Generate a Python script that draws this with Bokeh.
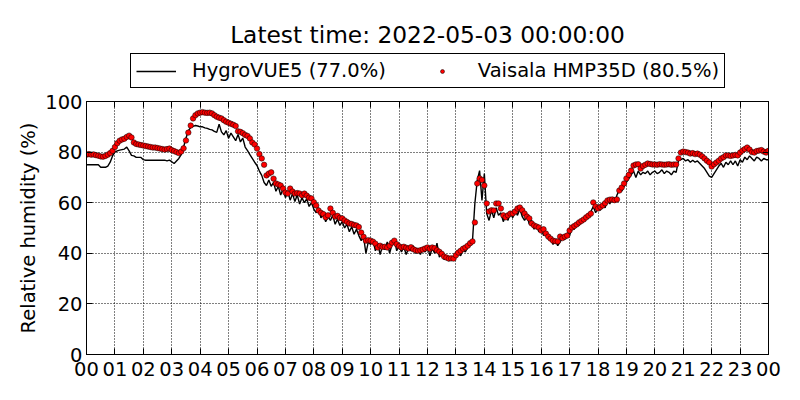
import pandas as pd
from bokeh.plotting import figure
from bokeh.layouts import column
from bokeh.models import (Range1d, FixedTicker, DatetimeTickFormatter, LinearAxis, DatetimeAxis,
                          Legend, LegendItem, Label, ColumnDataSource)
from bokeh.embed import file_html
from bokeh.resources import INLINE

title_text = "Latest time: 2022-05-03 00:00:00"
y_label = "Relative humidity (%)"
hygro_label = "HygroVUE5 (77.0%)"
vaisala_label = "Vaisala HMP35D (80.5%)"

times = pd.date_range("2022-05-02 00:00", periods=289, freq="5min")
hour_ticks = pd.date_range("2022-05-02 00:00", periods=25, freq="h")

# Vaisala HMP35D (dots), 5-minute values, one row per hour
vaisala = [
    79.0, 79.2, 79.0, 79.1, 78.8, 78.6, 78.3, 78.2, 78.5, 79.0, 79.6, 80.5,
    82.0, 83.5, 84.5, 85.0, 85.3, 86.0, 86.5, 85.8, 83.8, 83.2, 83.0, 82.8,
    82.6, 82.4, 82.2, 82.0, 81.8, 81.8, 81.6, 81.4, 81.2, 81.0, 81.2, 81.4,
    80.8, 80.4, 80.0, 79.6, 80.2, 81.5, 84.6, 87.7, 90.5, 93.3, 94.6, 95.3,
    95.6, 95.8, 95.6, 95.5, 95.6, 95.3, 94.6, 94.0, 93.6, 93.3, 92.6, 92.0,
    91.6, 91.2, 90.8, 90.3, 88.2, 88.0, 87.5, 86.8, 86.4, 85.4, 83.8, 83.0,
    81.4, 79.2, 77.5, 75.0, 70.8, 71.5, 72.0, 69.5, 67.6, 67.2, 66.8, 65.6,
    64.0, 63.6, 65.6, 64.4, 63.6, 63.8, 63.6, 62.9, 63.6, 62.8, 62.0, 61.7,
    60.2, 58.9, 56.9, 56.0, 55.5, 54.2, 55.0, 57.7, 56.0, 54.5, 54.8, 54.0,
    53.8, 53.0, 52.4, 51.8, 51.6, 51.2, 51.0, 50.4, 48.2, 46.5, 45.0, 45.2,
    45.0, 44.6, 43.8, 42.3, 43.0, 42.5, 42.6, 42.3, 43.0, 44.2, 45.0, 43.6,
    42.8, 42.3, 42.6, 42.2, 41.9, 42.4, 41.6, 41.2, 41.0, 41.2, 41.5, 41.9,
    42.3, 41.8, 42.3, 42.0, 41.2, 40.6, 39.8, 38.7, 38.3, 37.9, 38.0, 37.9,
    39.2, 40.3, 41.0, 41.8, 42.3, 43.0, 44.0, 44.7, 52.2, 67.6, 69.6, 69.0,
    66.8, 59.7, 56.5, 57.0, 56.9, 59.7, 59.7, 57.7, 55.0, 54.2, 55.0, 55.7,
    55.7, 56.5, 57.7, 58.1, 57.0, 55.7, 54.5, 53.8, 51.8, 51.0, 50.6, 50.2,
    49.0, 49.5, 47.8, 46.6, 45.8, 45.0, 44.8, 44.7, 46.6, 46.0, 46.6, 47.0,
    49.0, 50.2, 50.8, 51.4, 52.2, 52.8, 53.4, 54.2, 54.9, 55.7, 60.1, 58.5,
    57.7, 58.3, 58.9, 59.8, 60.9, 61.2, 61.3, 61.0, 61.3, 64.8, 66.0, 67.6,
    69.6, 71.0, 72.7, 74.7, 75.1, 75.2, 73.5, 74.5, 75.0, 75.5, 75.3, 75.1,
    75.1, 75.0, 75.2, 75.1, 75.0, 75.1, 75.2, 75.0, 75.1, 75.1, 77.5, 79.8,
    80.2, 80.0, 79.8, 79.4, 79.6, 79.2, 79.4, 79.0, 78.3, 77.5, 76.6, 75.9,
    74.3, 75.2, 75.9, 76.6, 77.5, 78.0, 78.7, 78.7, 78.5, 78.7, 78.9, 78.7,
    79.8, 80.6, 81.2, 81.8, 81.0, 80.0, 79.8, 80.4, 80.6, 80.8, 80.2, 79.8,
    80.5,
]

# HygroVUE5 (line), 5-minute values, one row per hour
hygro = [
    75.0, 75.0, 75.0, 75.0, 75.0, 75.0, 74.0, 74.0, 74.0, 74.5, 76.0, 78.5,
    80.0, 80.5, 80.8, 81.0, 81.2, 82.0, 80.5, 78.7, 78.5, 77.9, 77.9, 77.9,
    77.0, 76.8, 76.8, 76.8, 76.8, 76.8, 76.8, 76.8, 76.8, 76.8, 76.5, 76.8,
    76.2, 75.5, 76.5, 77.5, 79.0, 82.0, 85.5, 88.5, 89.7, 90.2, 90.5, 90.3,
    90.0, 90.0, 89.6, 89.4, 89.0, 88.8, 88.2, 87.8, 91.0, 88.0, 86.8, 88.5,
    85.5, 87.5, 86.0, 84.5, 87.0, 84.0, 85.5, 82.0, 80.6, 79.0, 77.5, 76.0,
    74.7, 72.5, 70.8, 68.0, 66.8, 69.0, 66.5, 68.0, 64.5, 66.5, 63.0, 65.5,
    62.0, 64.5, 61.0, 63.5, 60.5, 63.0, 59.5, 62.0, 60.0, 61.5, 58.5, 60.0,
    57.5, 56.0, 58.0, 54.0, 55.5, 52.5, 54.5, 53.0, 55.0, 51.5, 53.5, 51.0,
    52.5, 50.0, 51.5, 48.5, 50.5, 47.5, 49.5, 47.0, 45.0, 46.5, 40.0, 44.5,
    43.5, 45.0, 41.0, 44.0, 39.5, 43.0, 41.5, 44.5, 40.0, 43.5, 45.5, 41.0,
    43.0, 40.5, 42.5, 39.5, 42.0, 41.0, 43.0, 40.0, 41.5, 39.5, 42.0, 40.5,
    43.0, 39.0, 42.0, 40.0, 44.0, 38.5, 40.5, 37.5, 39.0, 37.0, 38.5, 37.5,
    38.5, 40.0, 39.0, 41.5, 40.5, 42.5, 43.0, 45.0, 59.7, 68.8, 72.7, 60.9,
    71.5, 55.7, 53.0, 57.0, 54.0, 58.0, 55.0, 56.0, 52.5, 55.0, 53.0, 56.5,
    54.0, 57.0, 55.0, 57.5, 54.5, 53.0, 55.0, 51.5, 53.0, 49.5, 51.5, 48.5,
    50.0, 47.0, 48.5, 45.5, 46.5, 43.5, 45.0, 43.0, 44.5, 46.0, 45.5, 48.0,
    47.0, 50.0, 49.5, 52.0, 51.0, 53.5, 52.5, 55.0, 54.0, 56.5, 58.5, 56.0,
    58.0, 57.0, 59.5, 58.0, 61.0, 59.5, 62.0, 60.0, 63.0, 65.0, 64.5, 66.5,
    68.0, 69.5, 71.0, 72.5, 70.0, 72.5, 71.0, 72.0, 71.5, 72.5, 71.0, 72.0,
    72.5, 71.5, 72.0, 73.0, 71.5, 72.5, 72.0, 71.0, 72.5, 72.0, 76.7, 77.0,
    77.5, 76.5, 77.0, 76.0, 76.8, 76.0, 76.5, 75.5, 74.5, 73.5, 72.0, 70.5,
    70.0, 71.5, 73.0, 74.5, 75.5, 74.0, 76.0, 75.0, 76.5, 75.0, 76.5, 74.5,
    77.0, 76.0, 78.0, 77.0, 78.5, 77.5, 76.5, 78.0, 77.5, 76.5, 77.5, 77.0,
    77.0,
]

y_ticks = [0, 20, 40, 60, 80, 100]

src = ColumnDataSource(dict(t=times, hygro=hygro, vaisala=vaisala))

FONT = "DejaVu Sans"
LINE_STYLE = dict(line_color="black", line_width=1.4)
DOT_STYLE = dict(size=5.5, fill_color="#ff0000", line_color="black", line_width=0.5)

HEAD_H = 89

# ---- header: title + legend ----
head = figure(width=800, height=HEAD_H, output_backend="svg", toolbar_location=None,
              x_axis_location=None, y_axis_location=None,
              x_range=Range1d(0, 1), y_range=Range1d(0, 1),
              min_border=0, min_border_left=0, min_border_right=0,
              min_border_top=0, min_border_bottom=0)
head.outline_line_color = None
head.grid.visible = False
head.background_fill_color = "white"
head.border_fill_color = "white"

# legend proxies: one NaN point each, so nothing is drawn in the header itself
nan_src = ColumnDataSource(dict(x=[float("nan")], y=[float("nan")]))
leg_line = head.line("x", "y", source=nan_src, **LINE_STYLE)
leg_dot = head.scatter("x", "y", source=nan_src, **DOT_STYLE)

legend = Legend(items=[LegendItem(label=hygro_label, renderers=[leg_line]),
                       LegendItem(label=vaisala_label, renderers=[leg_dot])],
                orientation="horizontal", location=(44, 1),
                glyph_width=40, glyph_height=10, label_height=20,
                label_standoff=16, spacing=36, padding=5, margin=0,
                border_line_color="black", border_line_width=1, border_line_alpha=1,
                background_fill_color="white", background_fill_alpha=1,
                label_text_font=FONT, label_text_font_size="19.5px", label_text_color="black")
head.add_layout(legend, "center")

head.add_layout(Label(x=341, y=55, x_units="screen", y_units="screen", text=title_text,
                      text_align="center", text_baseline="alphabetic",
                      text_font=FONT, text_font_size="23.3px", text_color="black"))

# ---- main plot ----
p = figure(width=800, height=400 - HEAD_H, output_backend="svg", toolbar_location=None,
           x_axis_type="datetime",
           x_range=Range1d(times[0], times[-1]), y_range=Range1d(0, 100),
           min_border_left=86, min_border_right=32, min_border_top=101 - HEAD_H,
           min_border_bottom=46)

p.background_fill_color = "white"
p.border_fill_color = "white"
p.outline_line_color = "black"
p.outline_line_width = 1

tick_ms = [int(t.value // 10**6) for t in hour_ticks]
xticker = FixedTicker(ticks=tick_ms)
xfmt = DatetimeTickFormatter(hours="%H", days="%H", hourmin="%H", minutes="%H")
yticker = FixedTicker(ticks=y_ticks)

def style_axis(ax):
    ax.axis_line_color = "black"
    ax.major_tick_in = 6
    ax.major_tick_out = 0
    ax.major_tick_line_color = "black"
    ax.minor_tick_line_color = None
    ax.major_label_text_font = FONT
    ax.major_label_text_font_size = "19.5px"
    ax.major_label_text_color = "black"

xa = p.xaxis[0]
xa.ticker = xticker
xa.formatter = xfmt
style_axis(xa)
xa.major_label_standoff = 7

ya = p.yaxis[0]
ya.ticker = yticker
style_axis(ya)
ya.major_label_standoff = 4
ya.axis_label = y_label
ya.axis_label_text_font = FONT
ya.axis_label_text_font_size = "19.5px"
ya.axis_label_text_font_style = "normal"
ya.axis_label_text_color = "black"
ya.axis_label_standoff = 2

top_ax = DatetimeAxis(ticker=xticker, formatter=xfmt)
style_axis(top_ax)
top_ax.major_label_text_font_size = "0px"
top_ax.major_label_standoff = 0
p.add_layout(top_ax, "above")

right_ax = LinearAxis(ticker=yticker)
style_axis(right_ax)
right_ax.major_label_text_font_size = "0px"
right_ax.major_label_standoff = 0
p.add_layout(right_ax, "right")

for g in (p.xgrid[0], p.ygrid[0]):
    g.grid_line_color = "black"
    g.grid_line_dash = "1 2"
    g.grid_line_width = 1
p.xgrid[0].ticker = xticker
p.ygrid[0].ticker = yticker

p.line("t", "hygro", source=src, **LINE_STYLE)
p.scatter("t", "vaisala", source=src, **DOT_STYLE)

layout = column(head, p, spacing=0)
open("out.html", "w").write(file_html(layout, INLINE))
